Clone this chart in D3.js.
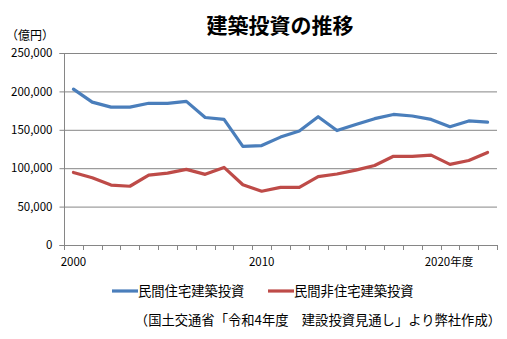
<!DOCTYPE html>
<html><head><meta charset="utf-8">
<script src="https://cdn.jsdelivr.net/npm/d3@7"></script>
<style>body{margin:0;background:#fff;}svg{display:block;font-family:"Noto Sans CJK JP","Noto Sans",sans-serif;}</style>
</head><body><svg id="c" width="507" height="339"></svg>
<script>
const years = d3.range(2000, 2023);
const residential = [203000,186000,179500,179500,184500,184500,187000,166000,163500,128500,129500,140500,148500,167000,149000,157000,164500,170000,168000,163500,154000,161500,160000];
const nonResidential = [94500,87500,78000,76500,91000,93500,98500,92000,101000,78500,70000,75000,75000,89000,92500,97500,103500,115500,115500,117000,105000,110000,120500];
const yTicks = [0,50000,100000,150000,200000,250000];
const xLabels = {2000:"2000",2010:"2010",2020:"2020年度"};
const seriesNames = ["民間住宅建築投資","民間非住宅建築投資"];
const colors = ["#4A7EBB","#BE4B48"];

const svg = d3.select("#c");
const L=64, R=497, T=53, B=245;
const x = d3.scaleBand().domain(years).range([L,R]).padding(0);
const y = d3.scaleLinear().domain([0,250000]).range([B,T]);

// gridlines
svg.append("g").selectAll("line").data(yTicks.filter(d=>d>0)).join("line")
  .attr("x1",L).attr("x2",R).attr("y1",d=>y(d)+0.5).attr("y2",d=>y(d)+0.5)
  .attr("stroke","#868686").attr("stroke-width",1);

// y axis
const ya = svg.append("g").attr("transform",`translate(${L+0.5},0)`)
  .call(d3.axisLeft(y).tickValues(yTicks).tickSize(5).tickPadding(7).tickFormat(d3.format(",")));
ya.select(".domain").attr("stroke","#868686").attr("d",`M-5,${B+0.5}H0V${T+0.5}H-5`);
ya.selectAll(".tick line").attr("stroke","#868686");
ya.selectAll(".tick text").attr("font-size",11.5).attr("fill","#000").attr("font-family","'Noto Sans CJK JP',sans-serif");

// x axis line and ticks at band boundaries
svg.append("line").attr("x1",L).attr("x2",R).attr("y1",B+0.5).attr("y2",B+0.5).attr("stroke","#868686");
svg.append("g").selectAll("line").data(years.concat([years[years.length-1]+1])).join("line")
  .attr("x1",(d,i)=>Math.round(L+i*x.bandwidth())+0.5).attr("x2",(d,i)=>Math.round(L+i*x.bandwidth())+0.5)
  .attr("y1",B).attr("y2",B+5).attr("stroke","#868686");
svg.append("g").selectAll("text").data(years.filter(d=>xLabels[d])).join("text")
  .attr("x",d=>x(d)+x.bandwidth()/2 + (d===2020?-1:0)).attr("y",B+21)
  .attr("text-anchor","middle").attr("font-size",11.5).text(d=>xLabels[d]);

// lines
const line = d3.line().x((d,i)=>x(years[i])+x.bandwidth()/2).y(d=>y(d));
[residential,nonResidential].forEach((s,k)=>{
  svg.append("path").datum(s).attr("d",line).attr("fill","none")
    .attr("stroke",colors[k]).attr("stroke-width",3.2).attr("stroke-linejoin","round").attr("stroke-linecap","round");
});

// title
svg.append("text").attr("x",280).attr("y",33).attr("text-anchor","middle")
  .attr("font-size",21).attr("font-weight","bold").text("建築投資の推移");
svg.append("text").attr("x",6).attr("y",40).attr("font-size",12).text("（億円）");

// legend
const legX = [112,268];
seriesNames.forEach((n,k)=>{
  svg.append("line").attr("x1",legX[k]).attr("x2",legX[k]+26).attr("y1",291).attr("y2",291)
    .attr("stroke",colors[k]).attr("stroke-width",3.2);
  svg.append("text").attr("x",legX[k]+26).attr("y",296).attr("font-size",13.3).text(n);
});

// source
svg.append("text").attr("x",501).attr("y",325).attr("text-anchor","end").attr("font-size",13.3)
  .text("（国土交通省「令和4年度　建設投資見通し」より弊社作成）");
</script></body></html>
